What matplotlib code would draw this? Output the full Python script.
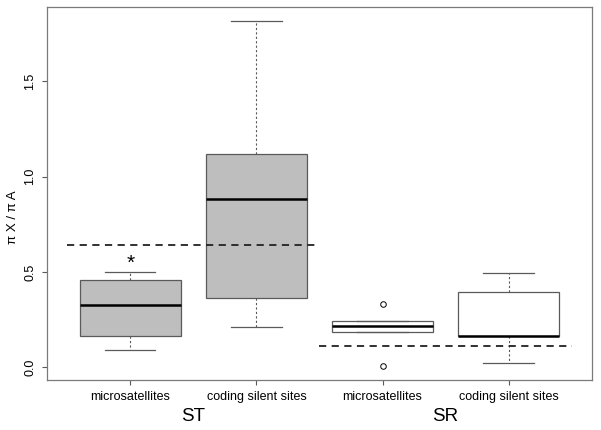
import matplotlib
matplotlib.use("Agg")
import matplotlib.pyplot as plt
from matplotlib.transforms import blended_transform_factory

plt.rcParams['font.family'] = ['Liberation Sans', 'DejaVu Sans']

# box statistics
tick_labels = ['microsatellites', 'coding silent sites', 'microsatellites', 'coding silent sites']
whislo = [0.089, 0.213, 0.187, 0.024]
q1 = [0.166, 0.362, 0.187, 0.162]
med = [0.327, 0.883, 0.215, 0.164]
q3 = [0.456, 1.118, 0.241, 0.393]
whishi = [0.498, 1.816, 0.241, 0.493]
fliers = [[], [], [0.332, 0.007], []]
box_colors = ['#bebebe', '#bebebe', 'white', 'white']

groups = ['ST', 'SR']
group_ref = [0.640, 0.112]   # dashed reference levels
star_value = 0.548

positions = [1, 2, 3, 4]
stats = []
for i in range(4):
    stats.append(dict(whislo=whislo[i], q1=q1[i], med=med[i], q3=q3[i],
                      whishi=whishi[i], fliers=fliers[i]))

fig = plt.figure(figsize=(6.01, 4.30), dpi=100)
ax = fig.add_axes([0.0782, 0.1163, 0.9068, 0.8674])

edge = '#5a5a5a'
bp = ax.bxp(stats, positions=positions, widths=0.8, patch_artist=True,
            boxprops=dict(edgecolor=edge, linewidth=0.9),
            medianprops=dict(color='black', linewidth=1.8),
            whiskerprops=dict(color=edge, linewidth=0.8, linestyle=(0, (2, 2))),
            capprops=dict(color=edge, linewidth=0.9),
            capwidths=0.4,
            flierprops=dict(marker='o', markerfacecolor='none',
                            markeredgecolor='black', markersize=4,
                            markeredgewidth=0.7))
for patch, c in zip(bp['boxes'], box_colors):
    patch.set_facecolor(c)

# dashed reference lines per group
for g, ref in enumerate(group_ref):
    x0 = positions[2 * g] - 0.5
    x1 = positions[2 * g + 1] + 0.5
    ax.plot([x0, x1], [ref, ref], color='#222222', linestyle=(0, (4, 3)),
            linewidth=1.3)

ax.text(positions[0], star_value, '*', ha='center', va='center', fontsize=15)

ax.set_xlim(0.34, 4.66)
ax.set_ylim(-0.066, 1.889)
ax.set_xticks(positions)
ax.set_xticklabels(tick_labels, fontsize=9)
ax.set_yticks([0.0, 0.5, 1.0, 1.5])
ax.set_yticklabels(['0.0', '0.5', '1.0', '1.5'], rotation=90, va='center',
                   fontsize=9)
ax.tick_params(axis='both', length=3.6, pad=4, color=edge, width=0.8)

for s in ax.spines.values():
    s.set_color('#7a7a7a')
    s.set_linewidth(0.9)

ax.set_ylabel('π X / π A', fontsize=9.5)
ax.yaxis.set_label_coords(-0.052, 0.437)

trans = blended_transform_factory(ax.transData, ax.transAxes)
for g, name in enumerate(groups):
    xc = (positions[2 * g] + positions[2 * g + 1]) / 2
    ax.text(xc, -0.098, name, transform=trans, ha='center', va='center',
            fontsize=13.5)

fig.savefig('out.png', dpi=100)
